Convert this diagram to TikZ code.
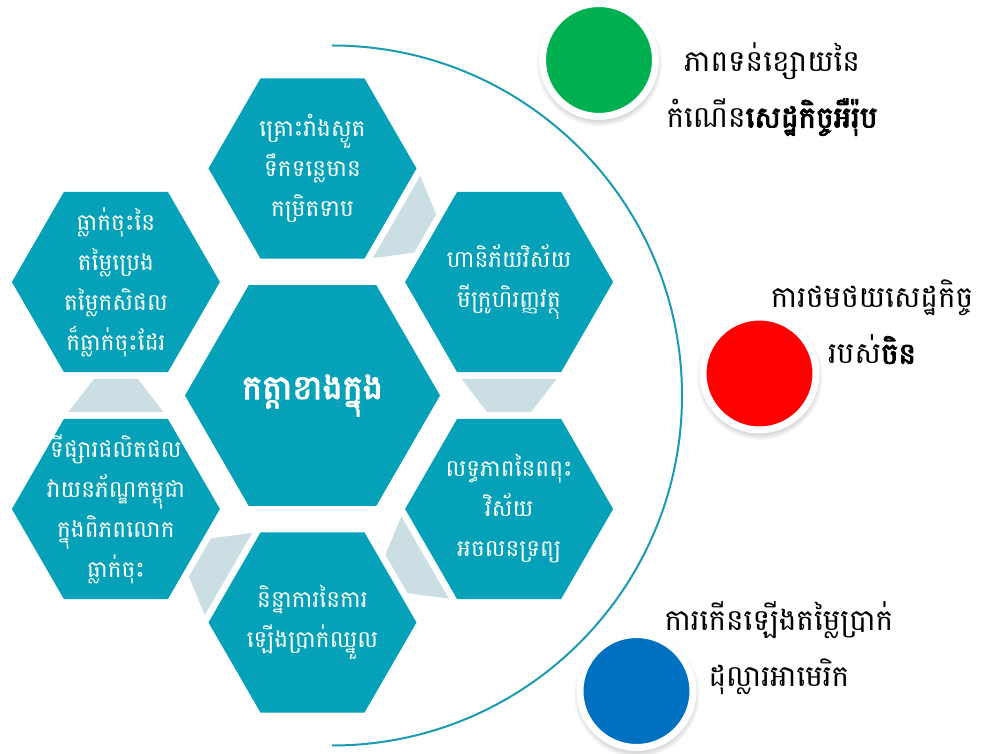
\documentclass[tikz,border=0pt]{standalone}
\usepackage{fontspec}
\newfontfamily\khmer[Script=Khmer,AutoFakeBold=3]{Battambang}
\usetikzlibrary{shapes.geometric,shadows,calc}
\definecolor{myTeal}{HTML}{04A1B8}
\definecolor{myMist}{HTML}{CBDEE4}
\definecolor{myGreen}{HTML}{00B050}
\definecolor{myRed}{HTML}{FF0000}
\definecolor{myBlue}{HTML}{0070C0}
\definecolor{myLine}{HTML}{1A9BB2}

\begin{document}
\begin{tikzpicture}
  \tikzstyle{H}=[regular polygon, regular polygon sides=6, fill=myTeal, inner sep=0pt, minimum size=5.2cm]
  \tikzstyle{K}=[H, minimum size=6.375cm]
  \tikzstyle{G}=[trapezium, trapezium left angle=60, trapezium right angle=60, trapezium stretches=true, fill=myMist, inner sep=1pt, minimum width=2.375cm, minimum height=0.825cm]
  \tikzstyle{T}=[text=white, align=center, font=\khmer\fontsize{16.5}{28.5}\selectfont]
  \tikzstyle{D}=[circle, draw=white, line width=0.175cm, minimum size=2.825cm, circular drop shadow={shadow scale=1.12, shadow xshift=0pt, shadow yshift=-0.07cm, opacity=0.45}]
  \tikzstyle{L}=[align=center, font=\khmer\fontsize{21}{40}\selectfont]

  \path[use as bounding box, fill=white] (-7.8125,-8.9375) rectangle (16.7875,9.8875);

  \draw[myLine, line width=0.05cm] (0.4875,8.75) arc[start angle=90, end angle=-90, radius=8.75];

  \node[K] (K) at (0,0) {};
  \node[H] (A) at (90:5.675) {};
  \node[H] (B) at (30:5.675) {};
  \node[H] (C) at (-30:5.675) {};
  \node[H] (D) at (-90:5.675) {};
  \node[H] (E) at (210:5.675) {};
  \node[H] (F) at (150:5.675) {};

  \node[G, rotate=-120] (AB) at ($(A)!0.5!(B)$) {};
  \node[G, rotate=180] (BC) at ($(B)!0.5!(C)$) {};
  \node[G, rotate=120] (CD) at ($(C)!0.5!(D)$) {};
  \node[G, rotate=60] (DE) at ($(D)!0.5!(E)$) {};
  \node[G] (EF) at ($(E)!0.5!(F)$) {};

  \node[T, font=\khmer\bfseries\fontsize{24}{30}\selectfont] (tK) at (K) {កត្តាខាងក្នុង};
  \node[T] (tA) at (A) {គ្រោះរាំងស្ងួត\\ទឹកទន្លេមាន\\កម្រិតទាប};
  \node[T] (tB) at (B) {ហានិភ័យវិស័យ\\មីក្រូហិរញ្ញវត្ថុ};
  \node[T] (tC) at (C) {លទ្ធភាពនៃពពុះ\\វិស័យ\\អចលនទ្រព្យ};
  \node[T] (tD) at (D) {និន្នាការនៃការ\\ឡើងប្រាក់ឈ្នួល};
  \node[T] (tE) at (E) {ទីផ្សារផលិតផល\\វាយនភ័ណ្ឌកម្ពុជា\\ក្នុងពិភពលោក\\ធ្លាក់ចុះ};
  \node[T] (tF) at (F) {ធ្លាក់ចុះនៃ\\តម្លៃប្រេង\\តម្លៃកសិផល\\ក៏ធ្លាក់ចុះដែរ};

  \node[D, fill=myGreen] (EU) at (7.1625,8.3875) {};
  \node[D, fill=myRed] (CN) at (11.175,0.55) {};
  \node[D, fill=myBlue] (US) at (8.1,-7.3875) {};

  \node[L] (lEU) at (11.49,7.66) {ភាពទន់ខ្សោយនៃ\\កំណើន{\bfseries សេដ្ឋកិច្ចអឺរ៉ុប}};
  \node[L] (lCN) at (13.99,1.84) {ការថមថយសេដ្ឋកិច្ច\\របស់{\bfseries ចិន}};
  \node[L] (lUS) at (11.66,-6.31) {ការកើនឡើងតម្លៃប្រាក់\\ដុល្លារអាមេរិក};
\end{tikzpicture}
\end{document}
